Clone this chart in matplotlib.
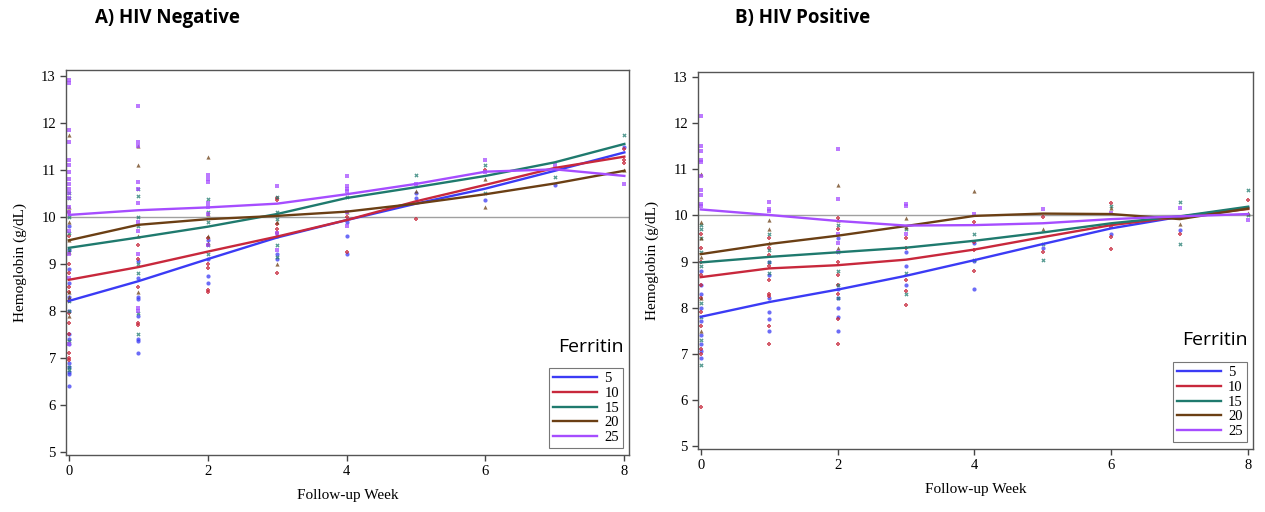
import matplotlib
matplotlib.use('Agg')
import matplotlib.pyplot as plt
from matplotlib.lines import Line2D

weeks = [0, 1, 2, 3, 4, 5, 6, 7, 8]
ferritin = ['5', '10', '15', '20', '25']
colors = ['#3b3bf5', '#c8283c', '#1f7a6e', '#6b3f14', '#a64dff']
markers = ['o', 'P', 'X', '^', 's']

# smoothed fits, read at each week
neg_curves = [
    [8.21, 8.63, 9.10, 9.56, 9.93, 10.28, 10.60, 10.98, 11.37],
    [8.66, 8.93, 9.26, 9.58, 9.93, 10.33, 10.68, 11.04, 11.28],
    [9.34, 9.56, 9.79, 10.06, 10.40, 10.63, 10.87, 11.16, 11.55],
    [9.50, 9.83, 9.95, 10.02, 10.11, 10.28, 10.48, 10.71, 10.98],
    [10.04, 10.14, 10.20, 10.28, 10.48, 10.70, 10.96, 11.01, 10.87],
]
pos_curves = [
    [7.80, 8.12, 8.39, 8.69, 9.03, 9.38, 9.72, 9.97, 10.17],
    [8.66, 8.85, 8.92, 9.04, 9.26, 9.53, 9.79, 9.97, 10.14],
    [8.98, 9.10, 9.20, 9.30, 9.45, 9.63, 9.83, 9.98, 10.19],
    [9.16, 9.38, 9.56, 9.77, 9.99, 10.04, 10.03, 9.92, 10.15],
    [10.13, 10.01, 9.88, 9.78, 9.79, 9.83, 9.92, 9.98, 10.03],
]

# observed values, HIV negative (week -> hemoglobin)
neg_pts_5 = {0: [9.8, 9.3, 8.9, 8.6, 8.3, 8.0, 7.5, 7.4, 7.3, 6.9, 6.8, 6.7, 6.65, 6.4],
             1: [9.05, 8.7, 8.3, 8.25, 7.9, 7.4, 7.35, 7.1],
             2: [9.5, 9.1, 8.75, 8.6], 3: [9.6, 9.2, 9.1], 4: [9.9, 9.6, 9.2],
             5: [10.5, 10.4], 6: [10.35], 7: [10.68], 8: [11.48]}
neg_pts_10 = {0: [10.1, 9.6, 9.0, 8.8, 8.5, 8.4, 8.2, 7.95, 7.75, 7.5, 7.1, 7.0, 6.95],
              1: [9.4, 9.1, 8.5, 7.7, 7.75],
              2: [9.55, 9.4, 9.0, 8.92, 8.45, 8.4], 3: [10.4, 10.36, 9.85, 9.75, 9.65, 8.8],
              4: [10.0, 9.25], 5: [9.95], 6: [11.0], 7: [], 8: [11.45, 11.2, 11.15]}
neg_pts_15 = {0: [10.5, 10.4, 10.0, 9.65, 9.3, 8.2, 8.0, 7.35, 6.8, 6.75],
              1: [10.6, 10.45, 10.0, 9.8, 9.0, 8.8, 7.95, 7.5],
              2: [10.38, 10.1, 9.9, 9.4, 9.2], 3: [10.42, 10.1, 9.95, 9.4, 9.15],
              4: [10.43], 5: [10.9], 6: [11.1, 10.5], 7: [10.85], 8: [11.75]}
neg_pts_20 = {0: [11.75, 10.2, 9.9, 9.5, 9.25, 8.4, 8.3, 7.9],
              1: [11.5, 11.1, 9.6, 8.4],
              2: [11.28, 10.05, 9.6, 9.45], 3: [9.9, 9.0], 4: [10.1],
              5: [10.55], 6: [10.8, 10.2], 7: [], 8: [11.0]}
neg_pts_25 = {0: [12.9, 12.85, 11.85, 11.6, 11.2, 11.1, 10.95, 10.8, 10.7, 10.6, 10.5,
                  10.4, 10.2, 10.1, 9.7, 9.2, 8.7, 7.3],
              1: [12.35, 11.6, 11.5, 10.75, 10.6, 10.3, 9.9, 9.7, 9.2, 8.05, 8.0],
              2: [10.9, 10.8, 10.75, 10.3, 10.2, 10.05, 9.4], 3: [10.65, 9.65, 9.3],
              4: [10.87, 10.65, 10.6, 10.55, 10.1, 9.8], 5: [10.7],
              6: [11.2, 10.95], 7: [11.1], 8: [10.7]}

# observed values, HIV positive
pos_pts_5 = {0: [8.8, 8.5, 8.3, 8.0, 7.7, 7.4, 7.2, 7.05, 6.9],
             1: [9.0, 8.7, 8.2, 7.9, 7.75, 7.5],
             2: [9.5, 8.4, 8.2, 8.0, 7.8, 7.5], 3: [9.2, 8.9, 8.5],
             4: [9.4, 9.02, 8.4], 5: [9.3], 6: [9.6], 7: [9.68], 8: []}
pos_pts_10 = {0: [9.6, 9.3, 9.0, 8.7, 8.5, 8.2, 7.9, 7.6, 7.1, 7.0, 5.85],
              1: [9.5, 9.3, 9.15, 8.9, 8.6, 8.3, 8.25, 7.6, 7.2],
              2: [9.95, 9.7, 9.0, 8.7, 8.5, 8.3, 7.75, 7.2], 3: [9.5, 9.3, 8.6, 8.35, 8.05],
              4: [9.85, 9.42, 9.24, 8.8], 5: [9.96, 9.2], 6: [10.28, 9.74, 9.54, 9.28],
              7: [9.6], 8: [10.34]}
pos_pts_15 = {0: [9.8, 9.7, 9.5, 9.2, 8.9, 8.1, 7.8, 7.3, 6.75],
              1: [9.6, 9.25, 9.0, 8.75],
              2: [9.8, 9.2, 8.8, 8.5, 8.2], 3: [9.7, 8.75, 8.3],
              4: [9.6, 9.03], 5: [9.38, 9.03], 6: [10.2], 7: [10.3, 9.38], 8: [10.56, 10.02]}
pos_pts_20 = {0: [10.9, 9.85, 9.5, 9.1, 8.2, 7.5],
              1: [9.9, 9.7, 9.4],
              2: [10.65, 9.9, 9.3], 3: [9.95, 9.75], 4: [10.53],
              5: [9.7], 6: [10.17], 7: [9.81], 8: [10.05]}
pos_pts_25 = {0: [12.15, 11.5, 11.4, 11.2, 11.15, 10.85, 10.55, 10.45, 10.25, 10.2],
              1: [10.3, 10.15, 10.1],
              2: [11.45, 10.35, 9.6, 9.4, 9.2], 3: [10.25, 10.2, 9.6],
              4: [10.04], 5: [10.13], 6: [10.06], 7: [10.17], 8: [9.9]}

neg_pts = [neg_pts_5, neg_pts_10, neg_pts_15, neg_pts_20, neg_pts_25]
pos_pts = [pos_pts_5, pos_pts_10, pos_pts_15, pos_pts_20, pos_pts_25]

serif = 'Liberation Serif'
fig = plt.figure(figsize=(12.65, 5.12), dpi=100)
ax1 = fig.add_axes([0.0519, 0.111, 0.4455, 0.752])
ax2 = fig.add_axes([0.5515, 0.123, 0.439, 0.737])


def draw_panel(ax, curves, pts, title, tx, ferr_y):
    ax.axhline(10, color='#a0a0a0', lw=1.0, zorder=1)
    for i in range(5):
        xs, ys = [], []
        for w, vals in pts[i].items():
            xs += [w] * len(vals)
            ys += vals
        ax.scatter(xs, ys, s=9, marker=markers[i], color=colors[i], alpha=0.75,
                   linewidths=0, zorder=2)
    for i in range(5):
        ax.plot(weeks, curves[i], color=colors[i], lw=1.7, zorder=3)
    ax.set_xlim(-0.045, 8.07)
    ax.set_ylim(4.93, 13.12)
    ax.set_xticks([0, 2, 4, 6, 8])
    ax.set_yticks(range(5, 14))
    ax.tick_params(direction='out', length=4, width=1, color='#444444',
                   labelsize=10.5, pad=3)
    for lab in ax.get_xticklabels() + ax.get_yticklabels():
        lab.set_fontfamily(serif)
    for s in ax.spines.values():
        s.set_color('#555555')
        s.set_linewidth(1.0)
    ax.set_xlabel('Follow-up Week', fontfamily=serif, fontsize=11, labelpad=8)
    ax.set_ylabel('Hemoglobin (g/dL)', fontfamily=serif, fontsize=11, labelpad=10)
    ax.text(0.99, ferr_y, 'Ferritin', transform=ax.transAxes, ha='right', va='center',
            fontfamily='Open Sans', fontsize=14)
    handles = [Line2D([0], [0], color=c, lw=1.7) for c in colors]
    leg = ax.legend(handles, ferritin, loc='lower right', bbox_to_anchor=(0.995, 0.01),
                    prop={'family': serif, 'size': 10.5}, frameon=True, fancybox=False,
                    handlelength=3.0, labelspacing=0.1, borderpad=0.3,
                    handletextpad=0.5, borderaxespad=0.2)
    leg.get_frame().set_edgecolor('#555555')
    leg.get_frame().set_linewidth(0.8)
    fig.text(tx, 0.965, title, ha='left', va='center', fontfamily='Open Sans',
             fontweight='bold', fontsize=13.5)


draw_panel(ax1, neg_curves, neg_pts, 'A) HIV Negative', 0.075, 0.28)
draw_panel(ax2, pos_curves, pos_pts, 'B) HIV Positive', 0.581, 0.29)

fig.savefig('out.png', dpi=100)
